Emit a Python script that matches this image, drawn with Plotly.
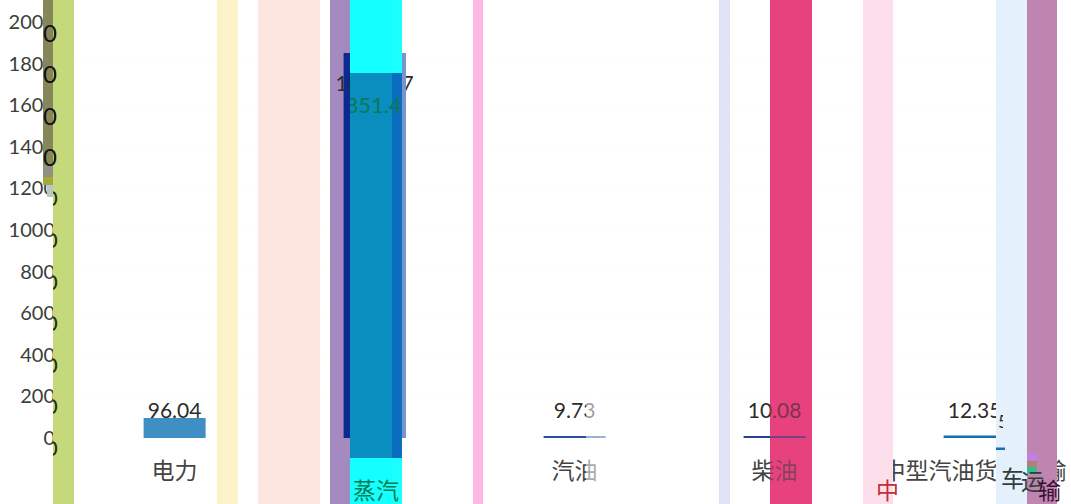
import plotly.graph_objects as go

categories = ["电力", "蒸汽", "汽油", "柴油", "中型汽油货车运输"]
values = [96.04, 1851.47, 9.73, 10.08, 12.35]
value_labels = ["96.04", "1851.47", "9.73", "10.08", "12.35"]
bar_colors = ["#3f8fc4", "#0a2a90", "#2a4f9f", "#2a3f90", "#0f6fb5"]
tick_values = [0, 200, 400, 600, 800, 1000, 1200, 1400, 1600, 1800, 2000]
tick_labels = [str(v) for v in tick_values]
label_heights = [122, 1695, 122, 122, 122]

W, H = 1071, 504
L, T, R, B = 73, 22, 0, 66
FONT = "Lato, 'Noto Sans CJK SC', sans-serif"
TEXT = "#2c2c2c"


def px(x):
    return (x - L) / (W - L - R)


def py(y):
    return (H - B - y) / (H - T - B)


def rect(x0, x1, y0, y1, color, layer="above"):
    return dict(type="rect", xref="paper", yref="paper", x0=px(x0), x1=px(x1),
                y0=py(y0), y1=py(y1), fillcolor=color, line_width=0, layer=layer)


def note(text, x, y, color=TEXT, size=22, **kw):
    return dict(text=text, xref="paper", yref="paper", x=px(x), y=py(y), showarrow=False,
                xanchor="center", yanchor="middle", font=dict(family=FONT, size=size, color=color), **kw)


shapes = [
    rect(330, 350, 0, 504, "#a58abf", "below"),
    rect(770, 812, 0, 504, "#e8427f", "below"),
    # bands over the plot
    rect(43, 53, 0, 165, "#85875a"),
    rect(43, 53, 165, 177, "#8f8f84"),
    rect(43, 53, 177, 185, "#a6a83c"),
    rect(47, 53, 185, 197, "#b9c8c0"),
    rect(53, 74, 0, 504, "#c5d97a"),
    rect(217, 238, 0, 504, "#fdf3c8"),
    rect(258, 320, 0, 504, "#fde6df"),
    rect(350, 392, 0, 504, "#14ffff"),
    rect(392, 402, 0, 504, "#1cfdfd"),
    rect(350, 392, 73, 458, "#0a8ebf"),
    rect(392, 402, 73, 458, "#0a6ec0"),
    rect(402, 406, 53, 438, "#7b93cc"),
    rect(473, 483, 0, 504, "#fdb9e3"),
    rect(586, 607, 395, 482, "rgba(255,255,255,0.55)"),
    rect(719, 730, 0, 504, "#dfe3f5"),
    rect(770, 812, 0, 504, "rgba(232,66,127,0.42)"),
    rect(863, 893, 0, 504, "#fddfeb"),
    rect(996, 1027, 0, 504, "#e4f1fd"),
    rect(1027, 1057, 0, 504, "#bf85b0"),
    rect(996, 1005, 447.5, 450, "#1a70b0"),
    rect(1027, 1037, 453, 461, "#c080e0"),
    rect(1027, 1037, 461, 467, "#b08070"),
    rect(1027, 1037, 467, 474, "#30c090"),
]

annotations = [
    note("851.4", 376, 104, "#0a7a50", width=52, height=26, align="right"),
    note("蒸汽", 375.5, 490, "#0a7a50", size=23),
    note("中", 887, 490, "#c0303a", size=23),
    note("车", 1012, 478, "#2f3f3a", size=23),
    note("运", 1032, 481, "#2f3f3a", size=23),
    note("输", 1049, 490, "#3a1030", size=23),
    note("5", 1000, 421, TEXT, size=18, width=5, height=16, align="left"),
]
# displaced last digits of the axis labels
for v in tick_values[7:]:
    annotations.append(note("0", 50, 22 + (2000 - v) * 0.208 + 10, "#101010", size=24))
for v in tick_values[:7]:
    annotations.append(note("0", 55.5, 22 + (2000 - v) * 0.208 + 9, "#203010", size=22,
                            width=5, height=18, align="right"))

fig = go.Figure()
fig.add_trace(go.Bar(x=categories, y=values, width=0.31, marker=dict(color=bar_colors, line_width=0)))
fig.add_trace(go.Scatter(x=categories, y=label_heights, mode="text", text=value_labels,
                         textposition="middle center", cliponaxis=False,
                         textfont=dict(family=FONT, size=21, color=TEXT)))
fig.update_layout(
    width=W, height=H, margin=dict(l=L, r=R, t=T, b=B, pad=0), autosize=False,
    paper_bgcolor="white", plot_bgcolor="white", showlegend=False,
    shapes=shapes, annotations=annotations,
    font=dict(family=FONT, color=TEXT, size=22),
)
fig.update_xaxes(type="category", range=[-0.508, 4.482], showgrid=False, zeroline=False, showline=False,
                 ticks="", ticklabelstandoff=17, tickfont=dict(size=23, family=FONT, color="#444444"))
fig.update_yaxes(range=[0, 2000], tickvals=tick_values, ticktext=tick_labels, zeroline=False,
                 showline=False, showgrid=True, gridcolor="rgba(120,120,120,0.035)", griddash="dot", ticks="",
                 ticklabelstandoff=17, tickfont=dict(size=20, family=FONT, color="#3a4038"))
fig.write_html("out.html", config=dict(displayModeBar=False),
               post_script="document.body.style.margin='0';document.body.style.overflow='hidden';")
